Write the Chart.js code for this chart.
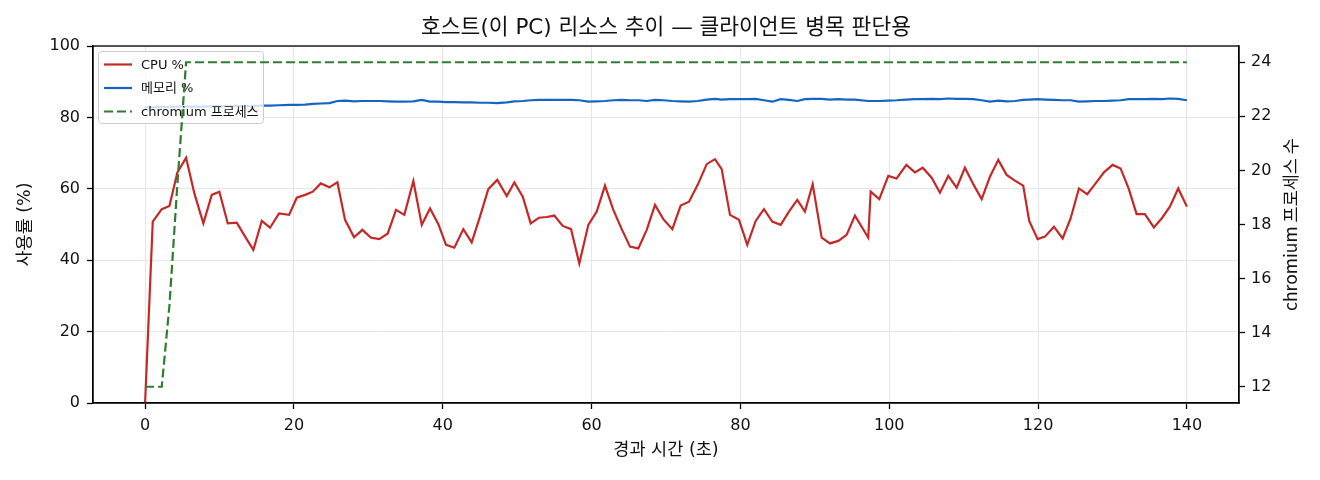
<!DOCTYPE html>
<html lang="ko">
<head>
<meta charset="utf-8">
<title>호스트 리소스 추이</title>
<script src="https://cdn.jsdelivr.net/npm/chart.js@4.4.1/dist/chart.umd.min.js"></script>
<style>
	html, body { margin: 0; padding: 0; background: #fff; }
</style>
</head>
<body>
<canvas id="resourceChart" width="1320" height="480"></canvas>
<script>
// sample times (s) and the three series
const times = [
	0, 1.03, 2.24, 3.27, 4.34, 5.51, 6.62, 7.83, 8.96, 9.98,
	11.11, 12.32, 13.44, 14.55, 15.68, 16.79, 18.0, 19.35, 20.38, 21.5,
	22.53, 23.61, 24.76, 25.84, 26.87, 28.08, 29.2, 30.36, 31.48, 32.61,
	33.72, 34.84, 36.05, 37.18, 38.29, 39.41, 40.44, 41.56, 42.76, 43.89,
	45.0, 46.12, 47.33, 48.6, 49.62, 50.75, 51.82, 52.94, 53.97, 54.99,
	56.12, 57.24, 58.35, 59.56, 60.69, 61.8, 62.92, 64.05, 65.16, 66.28,
	67.41, 68.52, 69.64, 70.85, 71.97, 73.09, 74.26, 75.47, 76.58, 77.48,
	78.6, 79.81, 80.92, 82.05, 83.16, 84.28, 85.41, 86.52, 87.64, 88.67,
	89.71, 90.92, 92.03, 93.15, 94.27, 95.39, 97.18, 97.5, 98.66, 99.87,
	100.99, 102.3, 103.45, 104.49, 105.7, 106.81, 107.93, 109.06, 110.17, 111.29,
	112.42, 113.53, 114.65, 115.77, 116.89, 118.0, 118.81, 119.94, 120.92, 122.13,
	123.3, 124.37, 125.49, 126.6, 127.73, 128.85, 130.01, 131.09, 132.2, 133.24,
	134.35, 135.56, 136.68, 137.71, 138.83, 140.0
];
const cpuPct = [
	0, 50.8, 54.3, 55.2, 64.6, 68.7, 58.7, 50.3, 58.3, 59.2,
	50.3, 50.5, 46.6, 42.9, 51.0, 49.1, 53.1, 52.7, 57.5, 58.3,
	59.2, 61.5, 60.4, 61.8, 51.3, 46.4, 48.5, 46.3, 45.9, 47.5,
	54.1, 52.7, 62.2, 49.9, 54.5, 50.1, 44.3, 43.5, 48.7, 45.0,
	52.2, 59.9, 62.5, 58.0, 61.8, 57.8, 50.3, 51.9, 52.1, 52.5,
	49.6, 48.7, 39.1, 49.9, 53.6, 60.9, 54.1, 48.7, 43.8, 43.3,
	48.5, 55.5, 51.5, 48.7, 55.3, 56.4, 61.1, 66.9, 68.3, 65.5,
	52.7, 51.3, 44.3, 51.0, 54.3, 50.8, 49.9, 53.6, 56.9, 53.6,
	61.3, 46.3, 44.7, 45.4, 47.1, 52.5, 46.3, 59.2, 57.1, 63.6,
	62.9, 66.7, 64.6, 65.9, 63.1, 58.9, 63.6, 60.3, 65.9, 61.3,
	57.1, 63.4, 68.1, 63.9, 62.3, 60.9, 51.0, 45.9, 46.6, 49.4,
	46.1, 51.7, 60.1, 58.5, 61.5, 64.6, 66.7, 65.7, 59.9, 52.9,
	52.9, 49.2, 51.9, 55.0, 60.1, 55.0
];
const memPct = [
	82.8, 82.8, 82.9, 82.9, 83.0, 83.0, 83.0, 83.0, 83.1, 83.1,
	83.1, 83.2, 83.2, 83.2, 83.3, 83.3, 83.4, 83.5, 83.5, 83.6,
	83.8, 83.9, 84.0, 84.6, 84.7, 84.5, 84.6, 84.6, 84.6, 84.5,
	84.4, 84.4, 84.5, 84.9, 84.4, 84.4, 84.3, 84.3, 84.2, 84.2,
	84.1, 84.1, 84.0, 84.2, 84.5, 84.6, 84.8, 84.9, 84.9, 84.9,
	84.9, 84.9, 84.8, 84.4, 84.5, 84.6, 84.8, 84.9, 84.8, 84.8,
	84.6, 84.9, 84.8, 84.6, 84.5, 84.4, 84.6, 85.0, 85.2, 85.0,
	85.1, 85.1, 85.1, 85.2, 84.8, 84.4, 85.1, 84.9, 84.6, 85.1,
	85.2, 85.2, 85.0, 85.1, 85.0, 85.0, 84.6, 84.6, 84.6, 84.7,
	84.8, 85.0, 85.1, 85.1, 85.2, 85.1, 85.3, 85.2, 85.2, 85.1,
	84.8, 84.4, 84.7, 84.5, 84.6, 84.9, 85.0, 85.1, 85.0, 84.9,
	84.8, 84.8, 84.4, 84.5, 84.6, 84.6, 84.7, 84.8, 85.1, 85.1,
	85.1, 85.2, 85.1, 85.3, 85.2, 84.8
];
const chromiumProcs = [
	12, 12, 12, 15, 19.5, 24, 24, 24, 24, 24,
	24, 24, 24, 24, 24, 24, 24, 24, 24, 24,
	24, 24, 24, 24, 24, 24, 24, 24, 24, 24,
	24, 24, 24, 24, 24, 24, 24, 24, 24, 24,
	24, 24, 24, 24, 24, 24, 24, 24, 24, 24,
	24, 24, 24, 24, 24, 24, 24, 24, 24, 24,
	24, 24, 24, 24, 24, 24, 24, 24, 24, 24,
	24, 24, 24, 24, 24, 24, 24, 24, 24, 24,
	24, 24, 24, 24, 24, 24, 24, 24, 24, 24,
	24, 24, 24, 24, 24, 24, 24, 24, 24, 24,
	24, 24, 24, 24, 24, 24, 24, 24, 24, 24,
	24, 24, 24, 24, 24, 24, 24, 24, 24, 24,
	24, 24, 24, 24, 24, 24
];
const xTicks = [0, 20, 40, 60, 80, 100, 120, 140];
const pctTicks = [0, 20, 40, 60, 80, 100];
const procTicks = [12, 14, 16, 18, 20, 22, 24];
const seriesLabels = ["CPU %", "메모리 %", "chromium 프로세스"];
const rightAxisLabel = "chromium 프로세스 수";

window.addEventListener("DOMContentLoaded", () => {
	const ctx = document.getElementById("resourceChart").getContext("2d");
	const family = "\"DejaVu Sans\", \"Noto Sans CJK KR\", sans-serif";
	const cjkFamily = "\"Noto Sans CJK KR\", \"DejaVu Sans\", sans-serif";
	const tickFont = { family: family, size: 16 };
	const labelFont = { family: family, size: 17.5 };
	const gridColor = "#e6e6e6";

	const pts = (ys) => times.map((t, i) => ({ x: t, y: ys[i] }));
	const fixTicks = (vals) => (scale) => { scale.ticks = vals.map((v) => ({ value: v })); };

	// box around the axes + right label reading bottom to top
	const frame = {
		id: "frame",
		afterDraw(chart) {
			const c = chart.ctx;
			const a = chart.chartArea;
			c.save();
			c.strokeStyle = "#000";
			c.lineWidth = 1.3;
			c.strokeRect(a.left, a.top, a.right - a.left, a.bottom - a.top);
			c.translate(1290, (a.top + a.bottom) / 2);
			c.rotate(-Math.PI / 2);
			c.font = "17.5px " + cjkFamily;
			c.fillStyle = "#111";
			c.textAlign = "center";
			c.textBaseline = "middle";
			c.fillText(rightAxisLabel, 0, 0);
			c.restore();
		}
	};

	// legend sits under the twin-axis line (drawn just before it)
	const legendBox = {
		id: "legendBox",
		beforeDatasetDraw(chart, args) {
			if (args.index !== 2) return;
			const c = chart.ctx;
			c.save();
			c.beginPath();
			c.roundRect(98.5, 51.5, 165, 72, 3);
			c.fillStyle = "rgba(255, 255, 255, 0.8)";
			c.fill();
			c.strokeStyle = "#cccccc";
			c.lineWidth = 1;
			c.stroke();
			c.font = "13px " + family;
			c.textBaseline = "middle";
			chart.data.datasets.forEach((ds, i) => {
				const y = 64.5 + i * 23.5;
				c.beginPath();
				c.setLineDash(ds.borderDash || []);
				c.strokeStyle = ds.borderColor;
				c.lineWidth = ds.borderWidth;
				c.moveTo(104, y);
				c.lineTo(132, y);
				c.stroke();
				c.fillStyle = "#111";
				c.fillText(ds.label, 141, y + 1);
			});
			c.restore();
		}
	};

	new Chart(ctx, {
		type: "line",
		data: {
			datasets: [
				{ label: seriesLabels[0], data: pts(cpuPct), yAxisID: "y", borderColor: "#c62828", borderWidth: 2.2, order: 3 },
				{ label: seriesLabels[1], data: pts(memPct), yAxisID: "y", borderColor: "#1565c0", borderWidth: 2.2, order: 2 },
				{ label: seriesLabels[2], data: pts(chromiumProcs), yAxisID: "y2", borderColor: "#2e7d32", borderWidth: 2.2, borderDash: [9, 4], order: 1 }
			]
		},
		options: {
			responsive: false,
			animation: false,
			devicePixelRatio: 1,
			elements: { point: { radius: 0 }, line: { tension: 0, fill: false } },
			layout: { padding: 0 },
			plugins: {
				legend: { display: false },
				tooltip: { enabled: false },
				title: {
					display: true,
					text: "호스트(이 PC) 리소스 추이 — 클라이언트 병목 판단용",
					font: { family: family, size: 21.5, weight: "normal" },
					color: "#111",
					fullSize: false,
					padding: { top: 15.2, bottom: 5 }
				}
			},
			scales: {
				x: {
					type: "linear",
					min: -7,
					max: 147,
					afterBuildTicks: fixTicks(xTicks),
					afterFit: (s) => { s.height = 77; },
					grid: { color: gridColor, tickLength: 6, tickColor: "#000", tickWidth: 1.3 },
					border: { color: "#000", width: 1.3 },
					ticks: { font: tickFont, color: "#111", padding: 7, maxRotation: 0, autoSkip: false },
					title: { display: true, text: "경과 시간 (초)", font: labelFont, color: "#111", padding: { top: 4, bottom: 19.5 } }
				},
				y: {
					position: "left",
					min: 0,
					max: 100,
					afterBuildTicks: fixTicks(pctTicks),
					afterFit: (s) => { s.width = 93; },
					grid: { color: gridColor, tickLength: 6, tickColor: "#000", tickWidth: 1.3 },
					border: { color: "#000", width: 1.3 },
					ticks: { font: tickFont, color: "#111", padding: 7 },
					title: { display: true, text: "사용률 (%)", font: labelFont, color: "#111", padding: { top: 14.5, bottom: 4 } }
				},
				y2: {
					position: "right",
					min: 11.4,
					max: 24.6,
					afterBuildTicks: fixTicks(procTicks),
					afterFit: (s) => { s.width = 81; },
					grid: { drawOnChartArea: false, tickLength: 6, tickColor: "#000", tickWidth: 1.3 },
					border: { color: "#000", width: 1.3 },
					ticks: { font: tickFont, color: "#111", padding: 6 }
				}
			}
		},
		plugins: [legendBox, frame]
	});
});
</script>
</body>
</html>
